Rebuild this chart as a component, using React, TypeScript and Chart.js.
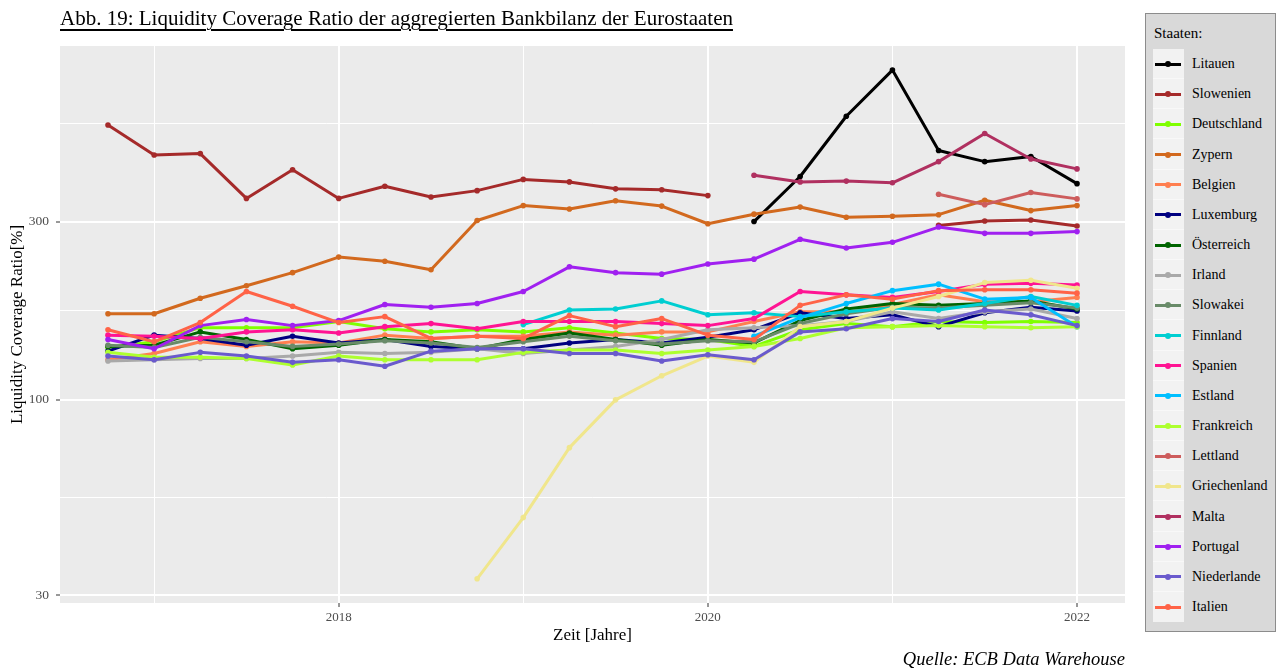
import React, { useEffect, useRef } from 'react';
import { Chart, registerables } from 'chart.js';

Chart.register(...registerables);

// Quarter-end dates as decimal years
const quarters = [
  2016.75, 2017.0, 2017.25, 2017.5, 2017.75, 2018.0, 2018.25, 2018.5, 2018.75,
  2019.0, 2019.25, 2019.5, 2019.75, 2020.0, 2020.25, 2020.5, 2020.75, 2021.0,
  2021.25, 2021.5, 2021.75, 2022.0,
];

type V = number | null;
const n = null;

const litauen: V[] = [n, n, n, n, n, n, n, n, n, n, n, n, n, n, 300, 396, 574, 763, 465, 434, 448, 379];
const slowenien: V[] = [544, 452, 456, 346, 413, 346, 373, 349, 363, 389, 383, 367, 365, 352, n, n, n, n, 293, 301, 303, 292];
const deutschland: V[] = [138, 143, 156, 156, 156, 162, 155, 152, 154, 152, 156, 151, 146, 145, 139, 154, 160, 157, 162, 161, 162, 161];
const zypern: V[] = [170, 170, 187, 202, 219, 241, 235, 223, 302, 331, 324, 341, 330, 296, 314, 328, 308, 310, 313, 342, 321, 331];
const belgien: V[] = [128, 133, 143, 139, 143, 142, 149, 146, 148, 148, 152, 149, 152, 152, 162, 172, 172, 180, 191, 183, 183, 188];
const luxemburg: V[] = [135, 149, 146, 140, 148, 142, 145, 139, 137, 137, 142, 145, 142, 147, 154, 171, 165, 169, 157, 171, 177, 173];
const oesterreich: V[] = [139, 140, 152, 145, 137, 140, 145, 143, 137, 145, 151, 145, 140, 145, 142, 163, 175, 181, 179, 181, 184, 175];
const irland: V[] = [127, 128, 129, 129, 131, 134, 133, 134, 137, 133, 136, 139, 145, 154, 156, 158, 162, 172, 165, 172, 175, 165];
const slowakei: V[] = [140, 138, 147, 143, 139, 141, 144, 142, 138, 143, 148, 144, 141, 144, 143, 160, 170, 177, 176, 179, 182, 176];
const finnland: V[] = [n, n, n, n, n, n, n, n, n, 159, 174, 175, 184, 169, 171, 167, 172, 176, 174, 181, 189, 179];
const spanien: V[] = [149, 148, 146, 152, 154, 151, 157, 160, 155, 162, 162, 162, 160, 158, 165, 195, 191, 188, 195, 204, 205, 203];
const estland: V[] = [n, n, n, n, n, n, n, n, n, n, n, n, n, n, 148, 166, 181, 196, 204, 186, 188, 157];
const frankreich: V[] = [134, 130, 130, 129, 124, 131, 128, 128, 128, 134, 136, 136, 133, 136, 139, 146, 156, 157, 158, 157, 156, 157];
const lettland: V[] = [n, n, n, n, n, n, n, n, n, n, n, n, n, n, n, n, n, n, 355, 333, 359, 345];
const griechenland: V[] = [n, n, n, n, n, n, n, n, 33.2, 48.4, 74.5, 100, 116, 131, 126, 157, 162, 176, 189, 206, 209, 199];
const malta: V[] = [n, n, n, n, n, n, n, n, n, n, n, n, n, n, 399, 383, 385, 381, 434, 516, 441, 415];
const portugal: V[] = [145, 137, 158, 164, 158, 163, 180, 177, 181, 195, 227, 219, 217, 231, 238, 269, 255, 264, 290, 279, 279, 282];
const niederlande: V[] = [131, 128, 134, 131, 126, 128, 123, 135, 137, 137, 133, 133, 127, 132, 128, 152, 155, 165, 162, 174, 169, 158];
const italien: V[] = [154, 143, 161, 195, 178, 161, 167, 146, 148, 146, 168, 157, 165, 149, 145, 179, 191, 186, 196, 197, 197, 193];

const countries = [
  'Litauen', 'Slowenien', 'Deutschland', 'Zypern', 'Belgien', 'Luxemburg', 'Österreich',
  'Irland', 'Slowakei', 'Finnland', 'Spanien', 'Estland', 'Frankreich', 'Lettland',
  'Griechenland', 'Malta', 'Portugal', 'Niederlande', 'Italien',
];
const seriesValues: V[][] = [
  litauen, slowenien, deutschland, zypern, belgien, luxemburg, oesterreich,
  irland, slowakei, finnland, spanien, estland, frankreich, lettland,
  griechenland, malta, portugal, niederlande, italien,
];
const colors = [
  '#000000', '#A52A2A', '#7FFF00', '#D2691E', '#FF7F50', '#000080', '#006400',
  '#A9A9A9', '#698B69', '#00CED1', '#FF1493', '#00BFFF', '#ADFF2F', '#CD5C5C',
  '#F0E68C', '#B03060', '#A020F0', '#6A5ACD', '#FF6347',
];

const yMajorTicks = [30, 100, 300];
const yMinorTicks = [54.77, 173.2, 547.7];
const xMajorTicks = [2018, 2020, 2022];
const xMinorTicks = [2017, 2019, 2021];

const SERIF = "'Liberation Serif', 'Times New Roman', serif";

const panelBg = {
  id: 'panelBg',
  beforeDraw(chart: any) {
    const { ctx, chartArea } = chart;
    ctx.save();
    ctx.fillStyle = '#EBEBEB';
    ctx.fillRect(chartArea.left, chartArea.top, chartArea.right - chartArea.left, chartArea.bottom - chartArea.top);
    ctx.restore();
  },
};

export default function App() {
  const ref = useRef<HTMLCanvasElement | null>(null);

  useEffect(() => {
    if (!ref.current) return;
    const N = countries.length;
    const datasets = countries.map((name, idx) => ({
      label: name,
      data: quarters.map((x, i) => ({ x, y: seriesValues[idx][i] })),
      borderColor: colors[idx],
      backgroundColor: colors[idx],
      pointBackgroundColor: colors[idx],
      pointBorderWidth: 0,
      pointRadius: 2.8,
      borderWidth: 3,
      borderJoinStyle: 'round' as const,
      tension: 0,
      spanGaps: false,
      order: N - idx,
    }));

    const chart = new Chart(ref.current, {
      type: 'line',
      data: { datasets },
      plugins: [panelBg],
      options: {
        responsive: false,
        animation: false,
        devicePixelRatio: 1,
        layout: { padding: { top: 46, right: 151, left: 0, bottom: 0 } },
        plugins: { legend: { display: false }, tooltip: { enabled: false }, title: { display: false } },
        scales: {
          x: {
            type: 'linear',
            min: 2016.49,
            max: 2022.26,
            afterFit: (s: any) => { s.height = 67; },
            afterBuildTicks: (s: any) => {
              s.ticks = [...xMinorTicks, ...xMajorTicks].sort((a, b) => a - b).map((v) => ({ value: v }));
            },
            ticks: {
              autoSkip: false,
              maxRotation: 0,
              padding: 3,
              color: '#4D4D4D',
              font: { family: SERIF, size: 13 },
              callback: (v: any) => (xMajorTicks.includes(Number(v)) ? String(v) : ''),
            },
            grid: {
              color: '#FFFFFF',
              lineWidth: (c: any) => (xMajorTicks.includes(c.tick?.value) ? 2 : 1),
              drawTicks: true,
              tickLength: 4,
              tickWidth: 1,
              tickColor: (c: any) => (xMajorTicks.includes(c.tick?.value) ? '#333333' : 'rgba(0,0,0,0)'),
            },
            border: { display: false },
            title: {
              display: true,
              text: 'Zeit [Jahre]',
              color: '#000000',
              font: { family: SERIF, size: 17 },
              padding: { top: 0, bottom: 24 },
            },
          },
          y: {
            type: 'logarithmic',
            min: 28.6,
            max: 885,
            afterFit: (s: any) => { s.width = 60; },
            afterBuildTicks: (s: any) => {
              s.ticks = [...yMajorTicks, ...yMinorTicks].sort((a, b) => a - b).map((v) => ({ value: v }));
            },
            ticks: {
              autoSkip: false,
              padding: 7,
              color: '#4D4D4D',
              font: { family: SERIF, size: 13.5 },
              callback: (v: any) => (yMajorTicks.includes(Number(v)) ? String(v) : ''),
            },
            grid: {
              color: '#FFFFFF',
              lineWidth: (c: any) => (yMajorTicks.includes(c.tick?.value) ? 2 : 1),
              drawTicks: true,
              tickLength: 4,
              tickWidth: 1,
              tickColor: (c: any) => (yMajorTicks.includes(c.tick?.value) ? '#333333' : 'rgba(0,0,0,0)'),
            },
            border: { display: false },
            title: {
              display: true,
              text: 'Liquidity Coverage Ratio[%]',
              color: '#000000',
              font: { family: SERIF, size: 17 },
              padding: { top: 7, bottom: 0 },
            },
          },
        },
      },
    });
    return () => chart.destroy();
  }, []);

  const rowStart = 64;
  const rowStep = 30.17;

  return (
    <div style={{ position: 'absolute', left: 0, top: 0, width: 1276, height: 670, background: '#FFFFFF', fontFamily: SERIF, overflow: 'hidden' }}>
      <canvas ref={ref} width={1276} height={670} style={{ position: 'absolute', left: 0, top: 0, width: 1276, height: 670 }} />
      <div style={{ position: 'absolute', left: 60, top: 8, fontSize: 21, lineHeight: '21px', color: '#000', textDecoration: 'underline', textUnderlineOffset: '4px', whiteSpace: 'nowrap' }}>
        Abb. 19: Liquidity Coverage Ratio der aggregierten Bankbilanz der Eurostaaten
      </div>
      <div style={{ position: 'absolute', right: 151, top: 650, fontSize: 18.5, lineHeight: '19px', fontStyle: 'italic', color: '#000', whiteSpace: 'nowrap' }}>
        Quelle: ECB Data Warehouse
      </div>
      <div style={{ position: 'absolute', left: 1145, top: 13, width: 131, height: 619, background: '#D9D9D9', border: '1px solid #8C8C8C', boxSizing: 'border-box' }} />
      <div style={{ position: 'absolute', left: 1154, top: 24, fontSize: 15, lineHeight: '18px', color: '#000' }}>Staaten:</div>
      {countries.map((name, i) => {
        const cy = rowStart + rowStep * i;
        return (
          <React.Fragment key={name}>
            <div style={{ position: 'absolute', left: 1153, top: cy - rowStep / 2, width: 31, height: rowStep, background: '#F2F2F2', borderBottom: i < countries.length - 1 ? '1px solid #F8F8F8' : 'none', boxSizing: 'border-box' }} />
            <div style={{ position: 'absolute', left: 1155, top: cy - 1.5, width: 26, height: 3, background: colors[i] }} />
            <div style={{ position: 'absolute', left: 1165, top: cy - 3, width: 6, height: 6, borderRadius: 3, background: colors[i] }} />
            <div style={{ position: 'absolute', left: 1192, top: cy - 9, fontSize: 14, lineHeight: '18px', color: '#000', whiteSpace: 'nowrap' }}>{name}</div>
          </React.Fragment>
        );
      })}
    </div>
  );
}
